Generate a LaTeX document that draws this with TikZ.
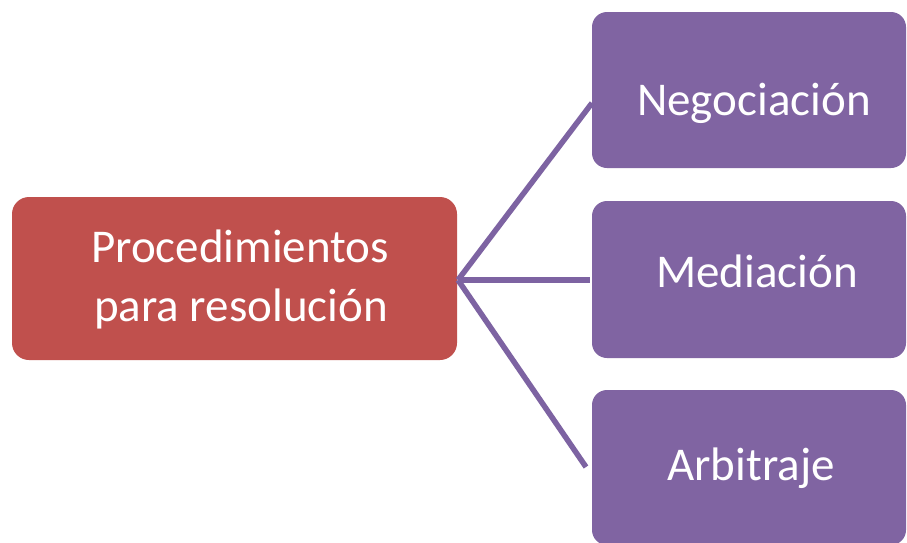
\documentclass[tikz,border=0pt]{standalone}
\usepackage{fontspec}
\setmainfont{Carlito}
\definecolor{boxred}{HTML}{C0504D}
\definecolor{boxpurple}{HTML}{8064A2}
\definecolor{linkpurple}{HTML}{7D63A2}
\begin{document}
\begin{tikzpicture}[x=1pt,y=-1pt,
  parentbox/.style={fill=boxred,draw=none,rounded corners=17pt,inner sep=0pt},
  childbox/.style={fill=boxpurple,draw=none,rounded corners=15pt,inner sep=0pt,minimum width=314pt},
  boxtext/.style={text=white,font=\fontsize{47}{50}\selectfont,anchor=base,inner sep=0pt},
  link/.style={draw=linkpurple,line width=5.5pt}]
\useasboundingbox (0,0) rectangle (907,542);
\fill[white] (0,0) rectangle (907,542);
\clip (0,0) rectangle (907,542);
% boxes
\node[parentbox,minimum width=445pt,minimum height=163pt] (p) at (234.5,278.5) {};
\node[childbox,minimum height=156pt] (c1) at (749,90) {};
\node[childbox,minimum height=157pt] (c2) at (749,279.5) {};
\node[childbox,minimum height=155pt] (c3) at (749,467.5) {};
% texts
\node[boxtext] (tp1) at (240,262) {Procedimientos};
\node[boxtext] (tp2) at (241,321) {para resolución};
\node[boxtext] (t1) at (754,115) {Negociación};
\node[boxtext] (t2) at (757,287) {Mediación};
\node[boxtext] (t3) at (751,480) {Arbitraje};
% connectors
\coordinate (s) at (458,280);
\coordinate (e1) at (592,103);
\coordinate (e2) at (590,280);
\coordinate (e3) at (586,467);
\draw[link] (s) -- (e1);
\draw[link] (s) -- (e2);
\draw[link] (s) -- (e3);
\end{tikzpicture}
\end{document}
